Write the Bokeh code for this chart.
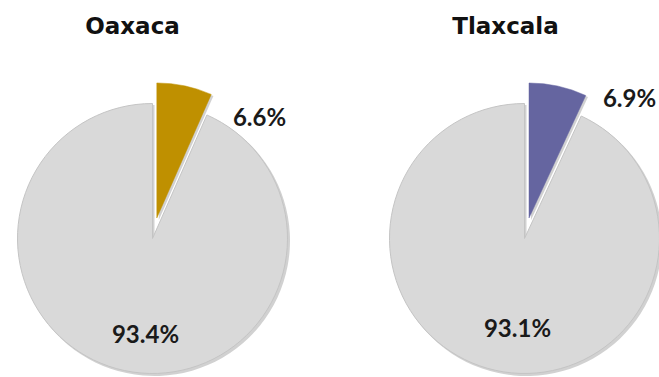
import math
from bokeh.plotting import figure
from bokeh.models import Range1d
from bokeh.core.properties import value
from bokeh.embed import file_html
from bokeh.resources import INLINE

# ---- data ----
states = ["Oaxaca", "Tlaxcala"]
pct_small = [6.6, 6.9]
pct_large = [93.4, 93.1]
small_colors = ["#BF9000", "#6565A0"]
rest_color = "#D9D9D9"

# ---- layout (data units == screen pixels, y measured upward) ----
W, H = 659, 377
centers_x = [152, 524]
center_y = 139
radius = 135
explode = 21
title_xy = [(132, 352), (505, 352)]
small_label_xy = [(259, 261), (629, 280)]
large_label_xy = [(145, 44), (517, 50)]

p = figure(width=W, height=H, output_backend="svg", toolbar_location=None,
           x_range=Range1d(0, W), y_range=Range1d(377 - H, 377),
           min_border=0, outline_line_color=None)
p.axis.visible = False
p.grid.visible = False
p.background_fill_color = "white"
p.border_fill_color = "white"

for i, st in enumerate(states):
    cx = centers_x[i]
    a_small = 2 * math.pi * pct_small[i] / 100.0
    top = math.pi / 2
    start_small = top - a_small
    mid = top - a_small / 2
    ex, ey = cx + explode * math.cos(mid), center_y + explode * math.sin(mid)

    # soft shadows
    p.wedge(x=[cx + 2], y=[center_y - 2], radius=radius + 0.5,
            start_angle=[top], end_angle=[start_small],
            fill_color="#9A9A9A", fill_alpha=0.45, line_color=None)
    p.wedge(x=[ex + 2], y=[ey - 2], radius=radius + 0.5,
            start_angle=[start_small], end_angle=[top],
            fill_color="#7A7A7A", fill_alpha=0.35, line_color=None)

    # large (grey) slice
    p.wedge(x=[cx], y=[center_y], radius=radius,
            start_angle=[top], end_angle=[start_small],
            fill_color=rest_color, line_color="#C4C4C4", line_width=1)
    # small exploded slice
    p.wedge(x=[ex], y=[ey], radius=radius,
            start_angle=[start_small], end_angle=[top],
            fill_color=small_colors[i], line_color=small_colors[i], line_width=0.5)

    tx, ty = title_xy[i]
    p.text(x=[tx], y=[ty], text=[st], text_font=value("DejaVu Sans"),
           text_font_style="bold", text_font_size="23px",
           text_align="center", text_baseline="middle", text_color="#111111")
    sx, sy = small_label_xy[i]
    p.text(x=[sx], y=[sy], text=[f"{pct_small[i]:.1f}%"], text_font=value("Lato"),
           text_font_style="bold", text_font_size="24px",
           text_align="center", text_baseline="middle", text_color="#1A1A1A")
    lx, ly = large_label_xy[i]
    p.text(x=[lx], y=[ly], text=[f"{pct_large[i]:.1f}%"], text_font=value("Lato"),
           text_font_style="bold", text_font_size="24px",
           text_align="center", text_baseline="middle", text_color="#1A1A1A")

open("out.html", "w").write(file_html(p, INLINE))
